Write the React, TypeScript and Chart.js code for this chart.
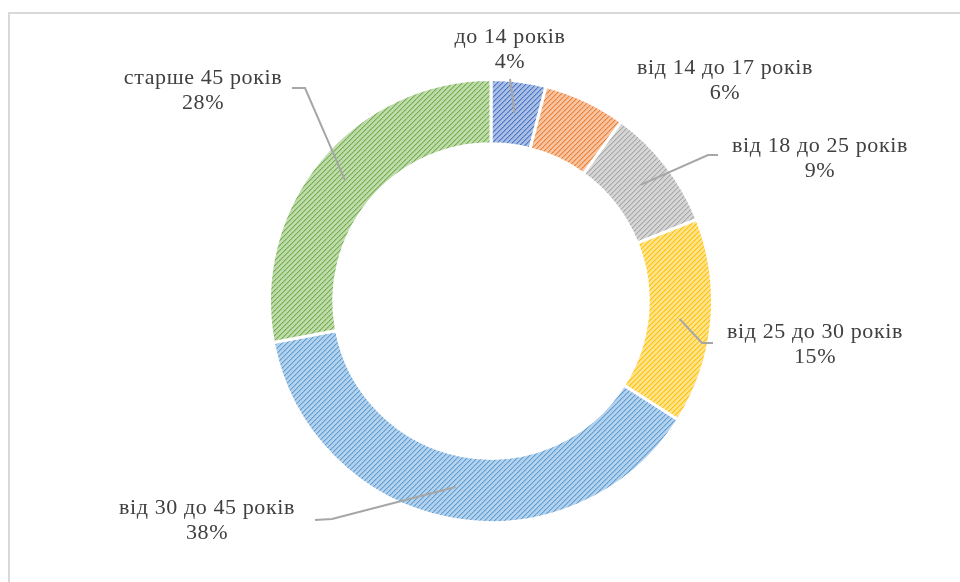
import { useEffect, useRef } from "react";
import { Chart, registerables } from "chart.js";

Chart.register(...registerables);

const categories = [
  "до 14 років",
  "від 14 до 17 років",
  "від 18 до 25 років",
  "від 25 до 30 років",
  "від 30 до 45 років",
  "старше 45 років",
];
const values = [4, 6, 9, 15, 38, 28];
const colors = ["#4472C4", "#ED7D31", "#A5A5A5", "#FFC000", "#5B9BD5", "#70AD47"];

// label placement (layout only): centre x, first-line y
const labelPos: [number, number][] = [
  [510, 37],
  [725, 68],
  [820, 146],
  [815, 332],
  [207, 508],
  [203, 78],
];
// leader-line points on the label side (from elbow to end), null = no leader
const leaderPts: ([number, number][] | null)[] = [
  [[510, 79]],
  null,
  [[708, 155], [718, 155]],
  [[702, 343], [713, 343]],
  [[332, 519], [315, 520]],
  [[305, 88], [292, 88]],
];

function makePattern(color: string): CanvasPattern | string {
  const s = 5;
  const c = document.createElement("canvas");
  c.width = s;
  c.height = s;
  const g = c.getContext("2d");
  if (!g) return color;
  g.fillStyle = "#ffffff";
  g.fillRect(0, 0, s, s);
  g.globalAlpha = 0.45;
  g.fillStyle = color;
  g.fillRect(0, 0, s, s);
  g.globalAlpha = 1;
  for (let i = 0; i < s; i++) {
    g.globalAlpha = i % 2 === 0 ? 1 : 0.85;
    g.fillRect(i, s - 1 - i, 1, 1);
  }
  g.globalAlpha = 0.4;
  for (let i = 0; i < s; i++) {
    g.fillRect(i, (s - i) % s, 1, 1);
  }
  g.globalAlpha = 1;
  const p = g.createPattern(c, "repeat");
  return p || color;
}

const labelPlugin = {
  id: "customLabels",
  beforeDraw(chart: any) {
    const ctx = chart.ctx;
    ctx.save();
    ctx.strokeStyle = "#D9D9D9";
    ctx.lineWidth = 2;
    ctx.strokeRect(9, 13, 1200, 1200);
    ctx.restore();
  },
  afterDraw(chart: any) {
    const ctx = chart.ctx;
    const meta = chart.getDatasetMeta(0);
    const total = values.reduce((a, b) => a + b, 0);
    ctx.save();
    meta.data.forEach((arc: any, i: number) => {
      const p = arc.getProps(["x", "y", "startAngle", "endAngle", "innerRadius", "outerRadius"], true);
      const mid = (p.startAngle + p.endAngle) / 2;
      const r = (p.innerRadius + p.outerRadius) / 2;
      const ax = p.x + Math.cos(mid) * r;
      const ay = p.y + Math.sin(mid) * r;
      const pts = leaderPts[i];
      if (pts) {
        ctx.beginPath();
        ctx.strokeStyle = "#A6A6A6";
        ctx.lineWidth = 2;
        ctx.moveTo(ax, ay);
        pts.forEach(([x, y]) => ctx.lineTo(x, y));
        ctx.stroke();
      }
      const [lx, ly] = labelPos[i];
      ctx.fillStyle = "#404040";
      ctx.font = '22px "Liberation Serif"';
      try {
        (ctx as any).letterSpacing = "0.6px";
      } catch (e) {}
      ctx.textAlign = "center";
      ctx.textBaseline = "middle";
      ctx.fillText(categories[i], lx, ly);
      ctx.fillText(Math.round((values[i] / total) * 100) + "%", lx, ly + 25);
    });
    ctx.restore();
  },
};

export default function App() {
  const ref = useRef<HTMLCanvasElement>(null);
  useEffect(() => {
    if (!ref.current) return;
    const chart = new Chart(ref.current, {
      type: "doughnut",
      data: {
        labels: categories,
        datasets: [
          {
            data: values,
            backgroundColor: colors.map(makePattern) as any,
            borderColor: "#ffffff",
            borderWidth: 3,
            hoverOffset: 0,
          },
        ],
      },
      options: {
        responsive: false,
        animation: false,
        cutout: "71%",
        layout: { padding: { left: 268, right: 246, top: 78, bottom: 58 } },
        plugins: {
          legend: { display: false },
          tooltip: { enabled: false },
        },
      },
      plugins: [labelPlugin],
    });
    return () => chart.destroy();
  }, []);
  return (
    <div style={{ position: "absolute", left: 0, top: 0, width: 960, height: 582, overflow: "hidden", background: "#fff" }}>
      <canvas ref={ref} width={960} height={582} style={{ display: "block" }} />
    </div>
  );
}
